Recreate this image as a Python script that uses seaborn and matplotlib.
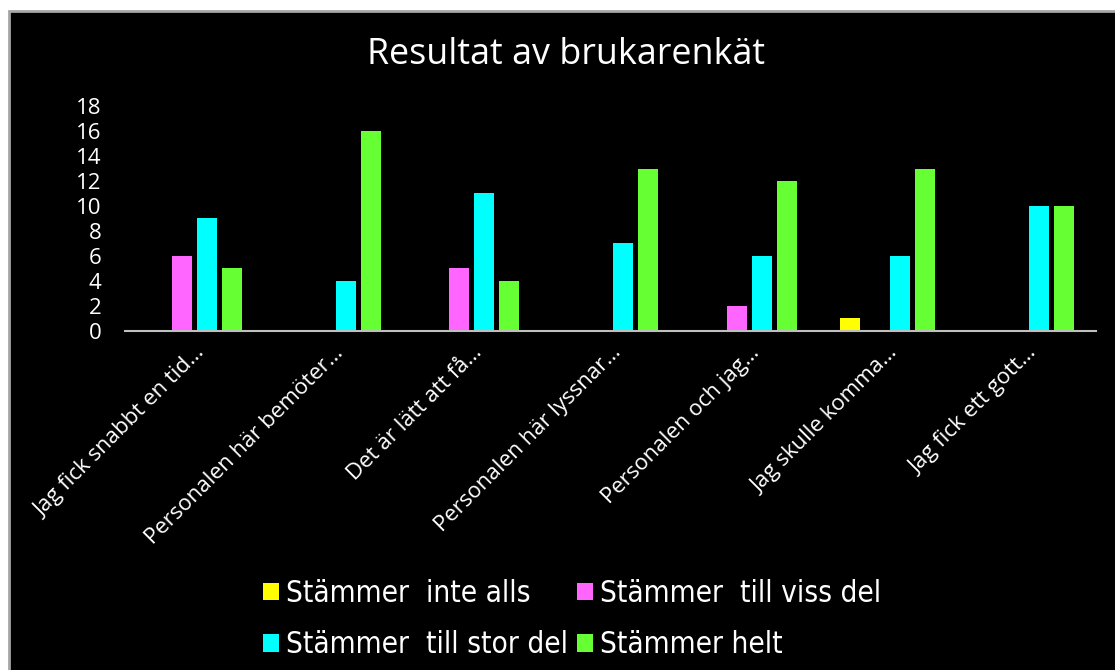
import pandas as pd
import seaborn as sns
import matplotlib.pyplot as plt
from matplotlib.patches import Rectangle

questions = [
    "Jag fick snabbt en tid…",
    "Personalen här bemöter…",
    "Det är lätt att få…",
    "Personalen här lyssnar…",
    "Personalen och jag…",
    "Jag skulle komma…",
    "Jag fick ett gott…",
]
series = [
    "Stämmer  inte alls",
    "Stämmer  till viss del",
    "Stämmer  till stor del",
    "Stämmer helt",
]
inte_alls = [0, 0, 0, 0, 0, 1, 0]
viss_del = [6, 0, 5, 0, 2, 0, 0]
stor_del = [9, 4, 11, 7, 6, 6, 10]
helt = [5, 16, 4, 13, 12, 13, 10]
colors = ["#FFFF00", "#FF66FF", "#00FFFF", "#66FF33"]

rows = []
for name, vals in zip(series, [inte_alls, viss_del, stor_del, helt]):
    for q, v in zip(questions, vals):
        rows.append({"fraga": q, "svar": name, "antal": v})
df = pd.DataFrame(rows)

sns.set_style("dark")
plt.rcParams["font.family"] = ["Open Sans", "DejaVu Sans"]

fig = plt.figure(figsize=(11.15, 6.7), dpi=100, facecolor="white")
# black slide background with a thin gray frame
fig.patches.append(Rectangle((9 / 1115, -0.01), 1.01, 659 / 670 + 0.01,
                             transform=fig.transFigure, facecolor="black",
                             edgecolor="#A6A6A6", linewidth=2, zorder=-5))

ax = fig.add_axes([125 / 1115, 1 - 331 / 670, (1096 - 125) / 1115, 225 / 670])
ax.set_facecolor("none")
ax.set_zorder(2)

sns.barplot(data=df, x="fraga", y="antal", hue="svar", hue_order=series,
            order=questions, palette=colors, width=0.72, gap=0.2,
            saturation=1, linewidth=0, legend=True, ax=ax)

ax.set_ylim(0, 18)
ax.set_yticks(range(0, 19, 2))
ax.set_xlim(-0.5, len(questions) - 0.5)
ax.set_xlabel("")
ax.set_ylabel("")
ax.grid(False)
for s in ["top", "left", "right"]:
    ax.spines[s].set_visible(False)
ax.spines["bottom"].set_color("#BFBFBF")
ax.spines["bottom"].set_linewidth(1.5)
ax.tick_params(axis="both", length=0, colors="white")
ax.tick_params(axis="y", labelsize=16, pad=17)
ax.tick_params(axis="x", labelsize=16, pad=8)
for lab in ax.get_xticklabels():
    lab.set_rotation(45)
    lab.set_ha("right")
    lab.set_rotation_mode("anchor")
    lab.set_color("white")

handles, labels = ax.get_legend_handles_labels()
ax.get_legend().remove()
for h in handles:
    h.set_edgecolor("none")
order = [0, 2, 1, 3]
leg = fig.legend([handles[i] for i in order], [labels[i] for i in order],
                 loc="center", bbox_to_anchor=(0.513, 0.076), ncol=2,
                 frameon=False, handlelength=0.55, handleheight=0.55,
                 handletextpad=0.25, columnspacing=0.28, labelspacing=0.75,
                 prop={"family": "DejaVu Sans", "stretch": "condensed", "size": 21.3})
for t in leg.get_texts():
    t.set_color("white")

fig.text(0.508, 0.918, "Resultat av brukarenkät", ha="center", va="center",
         color="white", fontsize=25.8)

fig.savefig("out.png", dpi=100, facecolor=fig.get_facecolor())
